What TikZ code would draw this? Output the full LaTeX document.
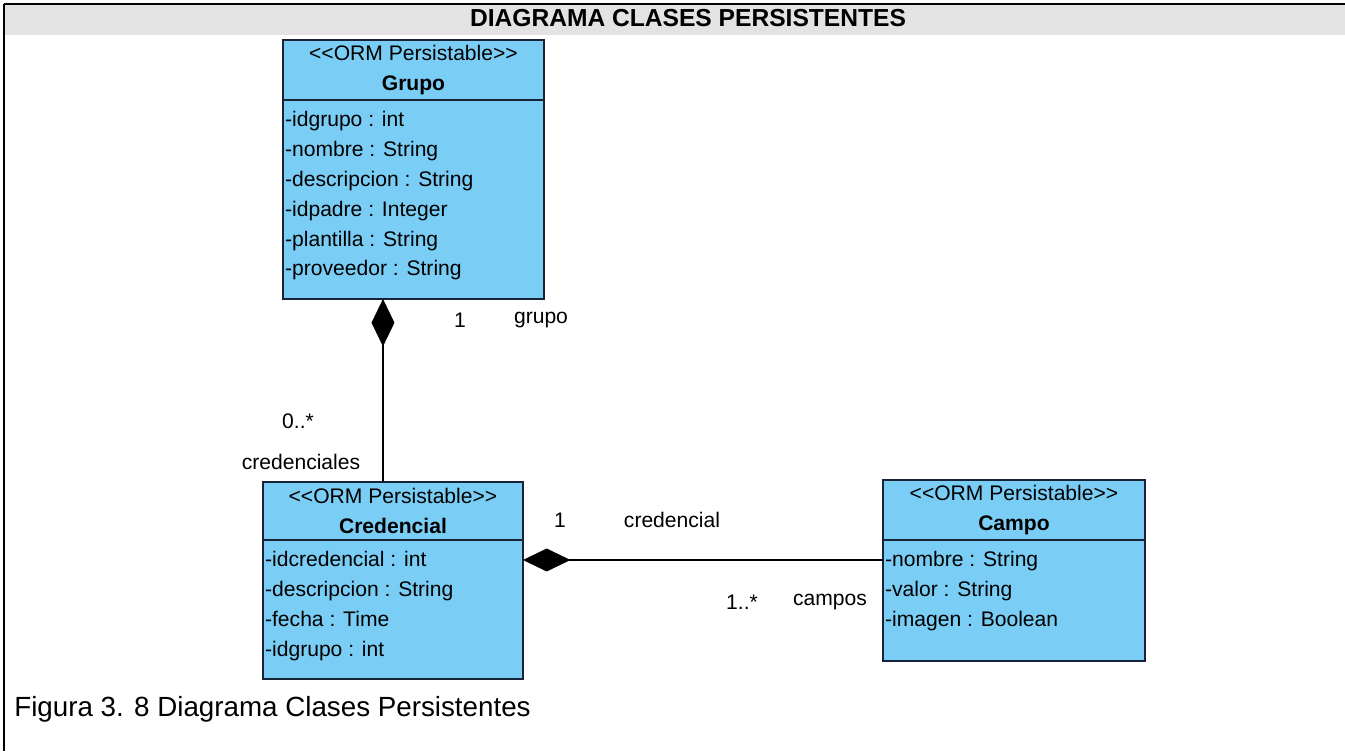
\documentclass[tikz,border=0pt]{standalone}
\usepackage{fontspec}
\setmainfont{Liberation Sans}
\usepackage{tikz}
\usetikzlibrary{positioning, arrows.meta, calc}
\definecolor{classfill}{RGB}{122,206,245}
\definecolor{classdraw}{RGB}{25,35,55}
\definecolor{bandgray}{RGB}{227,227,227}

\begin{document}
\begin{tikzpicture}[
			x=0.02cm, y=-0.02cm,
			head/.style={draw=classdraw, fill=classfill, line width=1.1pt, inner sep=0pt, outer sep=0pt,
				align=center, anchor=north west, font=\fontsize{12}{17.5}\selectfont},
			body/.style={draw=classdraw, fill=classfill, line width=1.1pt, inner sep=0pt, outer sep=0pt, anchor=north},
			attrs/.style={anchor=north west, align=left, inner xsep=1pt, inner ysep=0pt,
				font=\fontsize{12}{17}\selectfont},
			compo/.style={{Diamond[length=0.95cm, width=0.46cm]}-, line width=1pt, black},
			role/.style={font=\fontsize{12}{14}\selectfont, inner sep=0pt}
			]
			\useasboundingbox (0,0) rectangle (1345,751);
			
			% Frame and title band
			\fill[bandgray] (4,4) rectangle (1345,35);
			\draw[line width=1.4pt] (4,4) -- (1345,4);
			\draw[line width=1.4pt] (4,4) -- (4,751);
			\node[font=\bfseries\fontsize{14}{16}\selectfont] (title) at (688,18) {DIAGRAMA CLASES PERSISTENTES};
			
			% Classes
			\node[head, minimum width=5.22cm, minimum height=1.2cm] (grupo) at (283,40)
			{<{}<ORM Persistable>{}>\\\textbf{Grupo}};
			\node[body, minimum width=5.22cm, minimum height=3.98cm] (grupoBody) at (grupo.south) {};
			\node[attrs] (grupoAttrs) at ([yshift=-0.22cm]grupoBody.north west)
			{-idgrupo : int\\-nombre : String\\-descripcion : String\\-idpadre : Integer\\-plantilla : String\\-proveedor : String};
			
			\node[head, minimum width=5.2cm, minimum height=1.16cm] (credencial) at (263,482)
			{<{}<ORM Persistable>{}>\\\textbf{Credencial}};
			\node[body, minimum width=5.2cm, minimum height=2.78cm] (credencialBody) at (credencial.south) {};
			\node[attrs] (credencialAttrs) at ([yshift=-0.22cm]credencialBody.north west)
			{-idcredencial : int\\-descripcion : String\\-fecha : Time\\-idgrupo : int};
			
			\node[head, minimum width=5.24cm, minimum height=1.2cm] (campo) at (883,480)
			{<{}<ORM Persistable>{}>\\\textbf{Campo}};
			\node[body, minimum width=5.24cm, minimum height=2.42cm] (campoBody) at (campo.south) {};
			\node[attrs] (campoAttrs) at ([yshift=-0.22cm]campoBody.north west)
			{-nombre : String\\-valor : String\\-imagen : Boolean};
			
			% Compositions
			\coordinate (credTop) at ([xshift=-0.2cm]credencial.north);
			\draw[compo] (credTop |- grupoBody.south) -- (credTop);
			\coordinate (campoLink) at ([yshift=-0.4cm]campoBody.north west);
			\draw[compo] (credencialBody.east |- campoLink) -- (campoLink);
			
			% Roles and multiplicities
			\node[role] (grupoMult)  at (460,320) {1};
			\node[role] (grupoRole)  at (541,320) {grupo};
			\node[role] (credMult)   at (298,421) {0..*};
			\node[role] (credRole)   at (301,462) {credenciales};
			\node[role] (credMult2)  at (560,520) {1};
			\node[role] (credRole2)  at (672,520) {credencial};
			\node[role] (campoMult)  at (742,602) {1..*};
			\node[role] (campoRole)  at (830,602) {campos};
			
			% Caption
			\node[anchor=west, inner sep=0pt, font=\fontsize{15.8}{18}\selectfont] (caption) at (14,709)
			{Figura 3. 8 Diagrama Clases Persistentes};
			
		\end{tikzpicture}
\end{document}
